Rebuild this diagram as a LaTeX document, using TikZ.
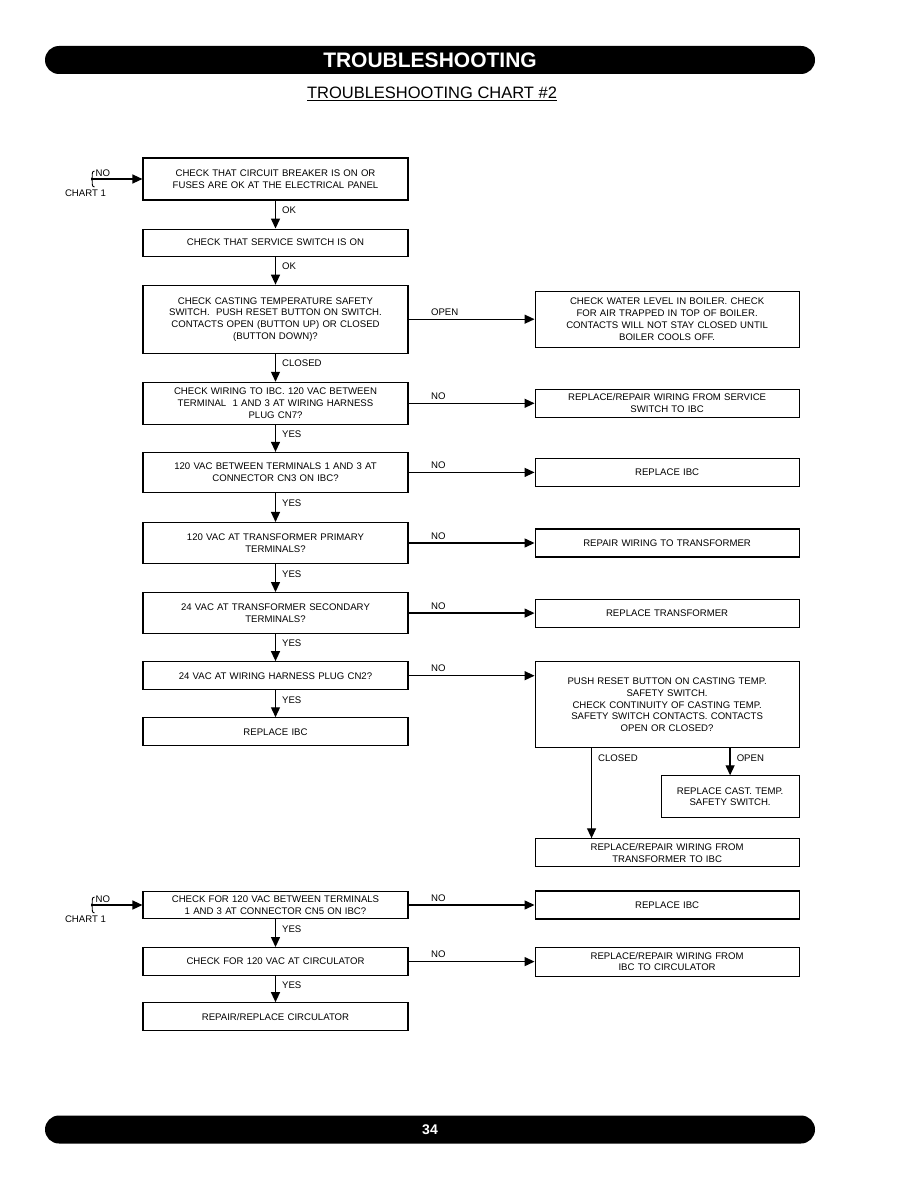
\documentclass[tikz,border=0pt]{standalone}
\usepackage{fontspec}
\setmainfont{Liberation Sans}
\usetikzlibrary{arrows.meta,positioning}
\tikzset{
  every node/.style={
    font=\fontsize{9.6}{11.7}\selectfont
  },
  check/.style={
    shape=rectangle,
    draw=black,
    line width=1.1pt,
    text width=257pt,
    inner xsep=4pt,
    inner ysep=2pt,
    text centered
  },
  action/.style={
    check,
    text width=256pt
  },
  flow/.style={
    -{Triangle[length=10pt,width=9pt]},
    line width=1.3pt
  },
  vlab/.style={
    pos=0.35,
    anchor=west,
    inner sep=6pt
  },
  hlab/.style={
    pos=0.15,
    anchor=south west,
    inner sep=3pt
  },
  bar/.style={
    fill=black,
    text=white,
    rounded corners=14pt,
    minimum width=770pt,
    minimum height=28pt,
    inner sep=0pt,
    font=\bfseries\fontsize{21}{24}\selectfont
  }
}

\begin{document}
\begin{tikzpicture}[x=1pt,y=-1pt]
  \useasboundingbox (0,0) rectangle (918,1188);

  \node [bar] (topbar) at (430,60) {TROUBLESHOOTING};
  \node [font=\fontsize{16.5}{19}\selectfont] (title) at (432,94)
    {\underline{TROUBLESHOOTING CHART \#2}};

  % left column
  \node [check, minimum height=42pt] (box1) at (275.5,179)
    {CHECK THAT CIRCUIT BREAKER IS ON OR\\FUSES ARE OK AT THE ELECTRICAL PANEL};
  \node [check, minimum height=27pt, below=28pt of box1] (box2)
    {CHECK THAT SERVICE SWITCH IS ON};
  \node [check, minimum height=68pt, below=28pt of box2] (box3)
    {CHECK CASTING TEMPERATURE SAFETY\\SWITCH.\ \ PUSH RESET BUTTON ON SWITCH.\\
     CONTACTS OPEN (BUTTON UP) OR CLOSED\\(BUTTON DOWN)?};
  \node [check, minimum height=42pt, below=28pt of box3] (box4)
    {CHECK WIRING TO IBC. 120 VAC BETWEEN\\TERMINAL\ \ 1 AND 3 AT WIRING HARNESS\\PLUG CN7?};
  \node [check, minimum height=40pt, below=27pt of box4] (box5)
    {120 VAC BETWEEN TERMINALS 1 AND 3 AT\\CONNECTOR CN3 ON IBC?};
  \node [check, minimum height=41pt, below=29pt of box5] (box6)
    {120 VAC AT TRANSFORMER PRIMARY\\TERMINALS?};
  \node [check, minimum height=41pt, below=28pt of box6] (box7)
    {24 VAC AT TRANSFORMER SECONDARY\\TERMINALS?};
  \node [check, minimum height=28pt, below=27pt of box7] (box8)
    {24 VAC AT WIRING HARNESS PLUG CN2?};
  \node [check, minimum height=28pt, below=27pt of box8] (box9)
    {REPLACE IBC};

  % right column
  \node [action, minimum height=56pt, right=126pt of box3] (fix1)
    {CHECK WATER LEVEL IN BOILER. CHECK\\FOR AIR TRAPPED IN TOP OF BOILER.\\
     CONTACTS WILL NOT STAY CLOSED UNTIL\\BOILER COOLS OFF.};
  \node [action, minimum height=28pt, right=126pt of box4] (fix2)
    {REPLACE/REPAIR WIRING FROM SERVICE\\SWITCH TO IBC};
  \node [action, minimum height=28pt, right=126pt of box5] (fix3)
    {REPLACE IBC};
  \node [action, minimum height=28pt, right=126pt of box6] (fix4)
    {REPAIR WIRING TO TRANSFORMER};
  \node [action, minimum height=28pt, right=126pt of box7] (fix5)
    {REPLACE TRANSFORMER};
  \node [action, minimum height=86pt, right=126pt of box8.north east, anchor=north west] (fix6)
    {PUSH RESET BUTTON ON CASTING TEMP.\\SAFETY SWITCH.\\CHECK CONTINUITY OF CASTING TEMP.\\
     SAFETY SWITCH CONTACTS. CONTACTS\\OPEN OR CLOSED?};
  \node [check, text width=130pt, minimum height=42pt,
         below=27pt of fix6.south east, anchor=north east] (fix7)
    {REPLACE CAST. TEMP.\\SAFETY SWITCH.};
  \node [action, minimum height=28pt, below=90pt of fix6.south west, anchor=north west] (fix8)
    {REPLACE/REPAIR WIRING FROM\\TRANSFORMER TO IBC};

  % entry from chart 1
  \coordinate [left=51pt of box1.west] (in1);
  \draw [line width=0.9pt] ([shift={(3,-8)}]in1) .. controls ([shift={(-1,-8)}]in1) and ([shift={(2,-1)}]in1) .. (in1)
    .. controls ([shift={(2,1)}]in1) and ([shift={(-1,8)}]in1) .. ([shift={(3,8)}]in1);
  \draw [flow] (in1) -- node [pos=0.03, anchor=south west, inner sep=2pt] {NO} (box1);
  \node [anchor=north, xshift=-6pt, yshift=-7pt] (chart1) at (in1) {CHART 1};

  \draw [flow] (box1) -- node [vlab] {OK} (box2);
  \draw [flow] (box2) -- node [vlab] {OK} (box3);
  \draw [flow] (box3) -- node [vlab] {CLOSED} (box4);
  \draw [flow] (box4) -- node [vlab] {YES} (box5);
  \draw [flow] (box5) -- node [vlab] {YES} (box6);
  \draw [flow] (box6) -- node [vlab] {YES} (box7);
  \draw [flow] (box7) -- node [vlab] {YES} (box8);
  \draw [flow] (box8) -- node [vlab] {YES} (box9);

  \draw [flow] (box3) -- node [hlab] {OPEN} (fix1);
  \draw [flow] (box4) -- node [hlab] {NO} (fix2);
  \draw [flow] (box5) -- node [hlab] {NO} (fix3);
  \draw [flow] (box6) -- node [hlab] {NO} (fix4);
  \draw [flow] (box7) -- node [hlab] {NO} (fix5);
  \draw [flow] (box8.east) -- node [hlab] {NO} (box8.east -| fix6.west);

  \draw [flow] ([xshift=57pt]fix6.south west) -- node [vlab, pos=0.11] {CLOSED} ([xshift=57pt]fix8.north west);
  \draw [flow] (fix6.south -| fix7.north) -- node [vlab] {OPEN} (fix7.north);

  % second part
  \node [check, minimum height=27pt] (box10) at (275.5,905)
    {CHECK FOR 120 VAC BETWEEN TERMINALS\\1 AND 3 AT CONNECTOR CN5 ON IBC?};
  \node [check, minimum height=28pt, below=28pt of box10] (box11)
    {CHECK FOR 120 VAC AT CIRCULATOR};
  \node [check, minimum height=28pt, below=26pt of box11] (box12)
    {REPAIR/REPLACE CIRCULATOR};
  \node [action, minimum height=28pt, right=126pt of box10] (fix9)
    {REPLACE IBC};
  \node [action, minimum height=29pt, right=126pt of box11] (fix10)
    {REPLACE/REPAIR WIRING FROM\\IBC TO CIRCULATOR};

  \coordinate [left=51pt of box10.west] (in2);
  \draw [line width=0.9pt] ([shift={(3,-8)}]in2) .. controls ([shift={(-1,-8)}]in2) and ([shift={(2,-1)}]in2) .. (in2)
    .. controls ([shift={(2,1)}]in2) and ([shift={(-1,8)}]in2) .. ([shift={(3,8)}]in2);
  \draw [flow] (in2) -- node [pos=0.03, anchor=south west, inner sep=2pt] {NO} (box10);
  \node [anchor=north, xshift=-6pt, yshift=-7pt] (chart2) at (in2) {CHART 1};

  \draw [flow] (box10) -- node [vlab] {YES} (box11);
  \draw [flow] (box11) -- node [vlab] {YES} (box12);
  \draw [flow] (box10) -- node [hlab] {NO} (fix9);
  \draw [flow] (box11) -- node [hlab] {NO} (fix10);

  \node [bar, font=\bfseries\fontsize{14}{16}\selectfont] (botbar) at (430,1129.5) {34};
\end{tikzpicture}
\end{document}
